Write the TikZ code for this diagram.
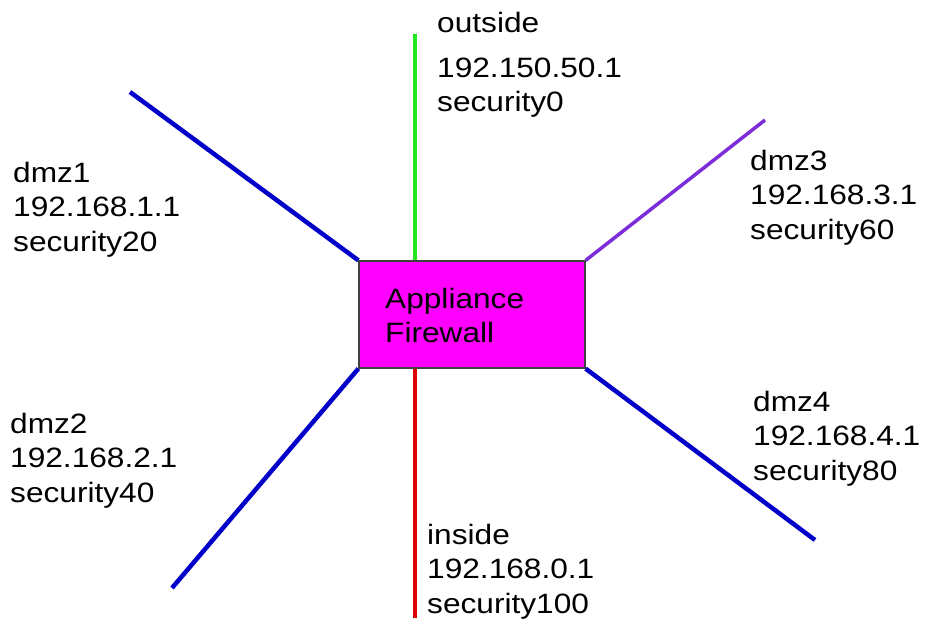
\documentclass[tikz,border=0pt]{standalone}
\usepackage{fontspec}
\setmainfont{Liberation Sans}[FakeStretch=1.13]
\definecolor{fwfill}{RGB}{255,0,255}
\definecolor{linkblue}{RGB}{0,0,200}
\definecolor{linkpurple}{RGB}{124,44,216}
\definecolor{linkgreen}{RGB}{34,230,34}
\definecolor{linkred}{RGB}{225,0,0}
\begin{document}
\begin{tikzpicture}[x=1pt,y=-1pt,
  % labels are placed by the baseline of their last line
  lbl/.style={anchor=base west,inner sep=0pt,align=left,
    font=\fontsize{28}{34.5}\selectfont},
  fw/.style={draw=black!75,line width=1.2pt,fill=fwfill,inner sep=0pt},
  bluelink/.style={line width=4.5pt,draw=linkblue},
  purplelink/.style={line width=3.5pt,draw=linkpurple},
  greenlink/.style={line width=3.5pt,draw=linkgreen},
  redlink/.style={line width=3.5pt,draw=linkred}]
\useasboundingbox (0,0) rectangle (941,626);

% interface end points
\coordinate (outEnd) at (415,34);
\coordinate (inEnd) at (415,618);
\coordinate (d1End) at (130,92);
\coordinate (d2End) at (172,588);
\coordinate (d3End) at (765,120);
\coordinate (d4End) at (815,540);

% firewall box
\node[fw,minimum width=226pt,minimum height=107pt] (fwbox) at (472,314.5) {};
\coordinate (outPort) at (415,261);
\coordinate (inPort) at (415,368);

% links
\draw[bluelink] (d1End) -- (fwbox.north west);
\draw[bluelink] (d2End) -- (fwbox.south west);
\draw[purplelink] (d3End) -- (fwbox.north east);
\draw[bluelink] (d4End) -- (fwbox.south east);
\draw[greenlink] (outEnd) -- (outPort);
\draw[redlink] (inEnd) -- (inPort);
\node[fw,fill=none,minimum width=226pt,minimum height=107pt] (fwframe) at (fwbox.center) {};

% labels
\node[lbl] (fwtext) at (385,342.5) {Appliance\\Firewall};
\node[lbl] (outlbl) at (437,111.5) {outside\\[10pt]192.150.50.1\\security0};
\node[lbl] (d1lbl) at (13,251) {dmz1\\192.168.1.1\\security20};
\node[lbl] (d2lbl) at (10,502) {dmz2\\192.168.2.1\\security40};
\node[lbl] (d3lbl) at (750,239) {dmz3\\192.168.3.1\\security60};
\node[lbl] (d4lbl) at (753,480) {dmz4\\192.168.4.1\\security80};
\node[lbl] (inlbl) at (427,613) {inside\\192.168.0.1\\security100};
\end{tikzpicture}
\end{document}
